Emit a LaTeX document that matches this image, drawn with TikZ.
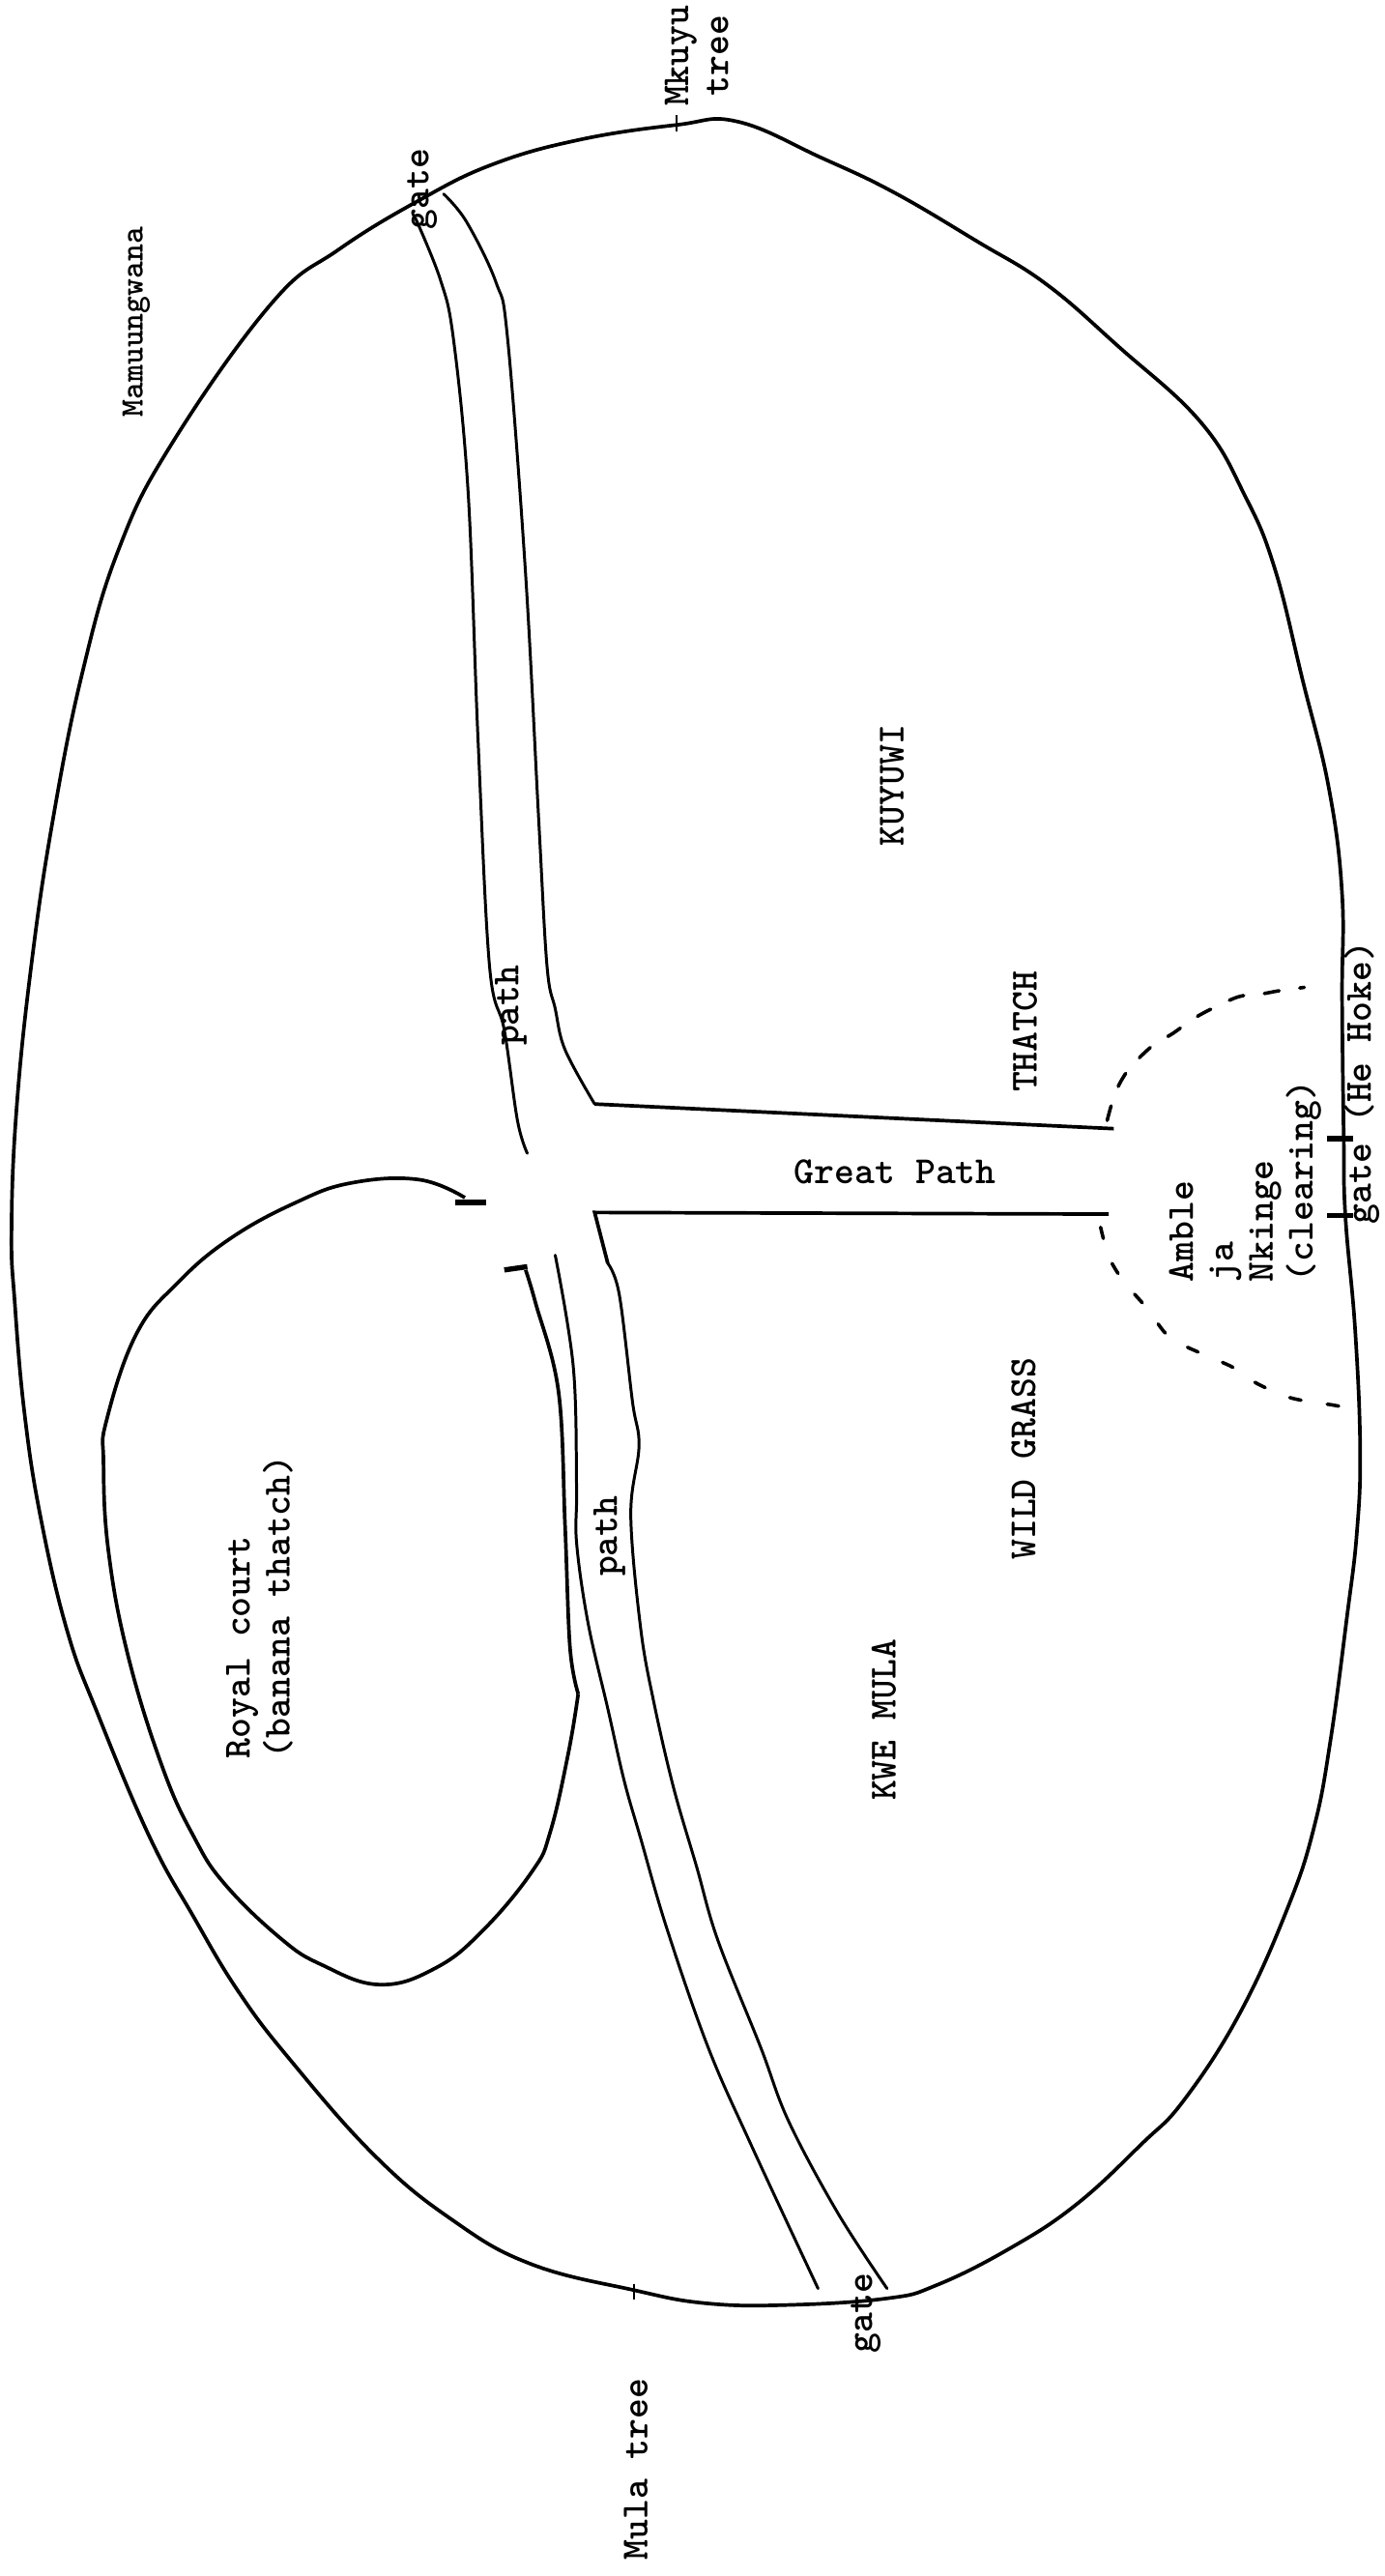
\documentclass[tikz,border=0pt]{standalone}
\usepackage{fontspec}
\usepackage{tikz}

\begin{document}
\begin{tikzpicture}[
        x=0.01cm, y=-0.01cm, % Coordenadas en pixeles de la referencia reducida
        boundary/.style={line width=0.62pt, line join=round}, % Cerca exterior
        pathline/.style={line width=0.5pt, line cap=round}, % Bordes de los caminos
        greatline/.style={line width=0.62pt}, % Bordes del camino grande
        clearing/.style={line width=0.6pt, line cap=round}, % Borde del claro
        gatemark/.style={line width=0.9pt}, % Marcas de puerta
        treemark/.style={line width=0.3pt}, % Marcas de arbol
        maplabel/.style={font=\fontsize{6.65}{6.9}\selectfont\ttfamily\bfseries, inner sep=0pt, align=left}, % Texto de la maquina
        uplabel/.style={maplabel, rotate=90} % Texto girado
    ]
        \useasboundingbox (0,0) rectangle (843,1568);

        % --- Cerca exterior ---
        \draw[boundary] plot[smooth cycle, tension=0.7] coordinates {
            (449,74) (500,96) (544,117) (595,147) (637,173) (681,211) (731,257) (758,302) (776,346)
            (793,414) (809,480) (817,544) (817,608) (818,692) (819,740) (825,810) (828,882) (826,933)
            (820,984) (810,1059) (800,1112) (784,1161) (755,1225) (721,1278) (695,1305)
            (655,1342) (614,1369) (570,1391) (540,1399) (480,1403) (430,1402) (386,1394) (323,1378)
            (275,1351) (228,1312) (176,1253) (145,1212) (118,1167) (91,1118) (59,1042) (41,993) (25,925) (15,861)
            (9,793) (7,749) (10,676) (19,588) (32,500) (50,410) (72,335) (104,271) (165,185) (206,152)
            (255,122) (300,100) (353,85) (412,76)};

        % --- Camino superior ---
        \draw[pathline] plot[smooth, tension=0.6] coordinates {
            (253,133) (268,170) (276,206) (285,300) (291,450) (298,588) (307,627) (315,682) (321,702)};
        \draw[pathline] plot[smooth, tension=0.6] coordinates {
            (270,118) (284,135) (302,172) (309,206) (320,350) (328,500) (333,588) (338,614) (344,639) (362,672)};

        % --- Camino grande ---
        \draw[greatline] (362,672) -- (678,687);
        \draw[greatline] (675,739) -- (362,738) -- (370,769);

        % --- Camino inferior ---
        \draw[pathline] plot[smooth, tension=0.6] coordinates {
            (370,769) (377,788) (385,853) (389,880) (384,922) (390,991) (398,1036) (410,1088) (424,1136)
            (437,1181) (463,1246) (480,1291) (510,1347) (540,1393)};
        \draw[pathline] plot[smooth, tension=0.6] coordinates {
            (338,764) (349,832) (351,905) (351,939) (358,988) (370,1040) (380,1084) (390,1119) (406,1174)
            (431,1246) (457,1305) (498,1393)};

        % --- Patio real ---
        \draw[boundary] plot[smooth, tension=0.6] coordinates {
            (320,773) (326,793) (340,847) (344,929) (347,1003) (352,1031)};
        \draw[boundary] plot[smooth, tension=0.7] coordinates {
            (352,1031) (346,1067) (335,1115) (324,1139) (294,1175) (265,1198) (231,1208) (196,1196) (171,1180)
            (137,1147) (118,1118) (99,1076) (78,1008) (66,944) (63,890) (65,864) (83,812) (108,781) (140,754) (180,732)
            (214,720) (255,718) (283,729)};
        \draw[gatemark] (277,732) -- (296,732);
        \draw[gatemark] (307,773) -- (321,771);

        % --- Claro ---
        \draw[clearing, dash pattern=on 2.6pt off 3.6pt] plot[smooth] coordinates {
            (674,682) (679,665) (687,651) (701,637) (714,629) (730,618) (753,607) (768,605) (779,603) (794,601)};
        \draw[clearing, dash pattern=on 2pt off 4.6pt] plot[smooth] coordinates {
            (670,747) (675,765) (684,780) (698,796) (712,814) (734,825) (750,832) (765,842) (783,850) (796,853) (810,855) (821,857)};

        % --- Marcas de puertas y arboles ---
        \draw[gatemark] (808,693) -- (824,693);
        \draw[gatemark] (808,740) -- (824,740);
        \draw[treemark] (412,70) -- (412,80);
        \draw[treemark] (386,1390) -- (386,1400);

        % --- Etiquetas ---
        \node[uplabel, align=center] (mkuyu) at (424,34) {Mkuyu\\tree};
        \node[uplabel, font=\fontsize{5.7}{6.9}\selectfont\ttfamily\bfseries] (mamuungwana) at (83,196) {Mamuungwana};
        \node[uplabel] (topgate) at (257,115) {gate};
        \node[uplabel] (toppath) at (311,612) {path};
        \node[uplabel] (kuyuwi) at (543,478) {KUYUWI};
        \node[uplabel] (thatch) at (624,628) {THATCH};
        \node[maplabel] (greatpath) at (545,713) {Great Path};
        \node[uplabel, anchor=west] (amble) at (758,781) {Amble\\ja\\Nkinge\\(clearing)};
        \node[uplabel] (hoke) at (829,659) {gate (He Hoke)};
        \node[uplabel] (wildgrass) at (623,888) {WILD GRASS};
        \node[uplabel] (lowpath) at (371,935) {path};
        \node[uplabel] (kwemula) at (538,1047) {KWE MULA};
        \node[uplabel, anchor=west] (court) at (158,1071) {Royal court\\(banana thatch)};
        \node[uplabel] (lowgate) at (527,1408) {gate};
        \node[uplabel] (mulatree) at (387,1503) {Mula tree};

    \end{tikzpicture}
\end{document}
